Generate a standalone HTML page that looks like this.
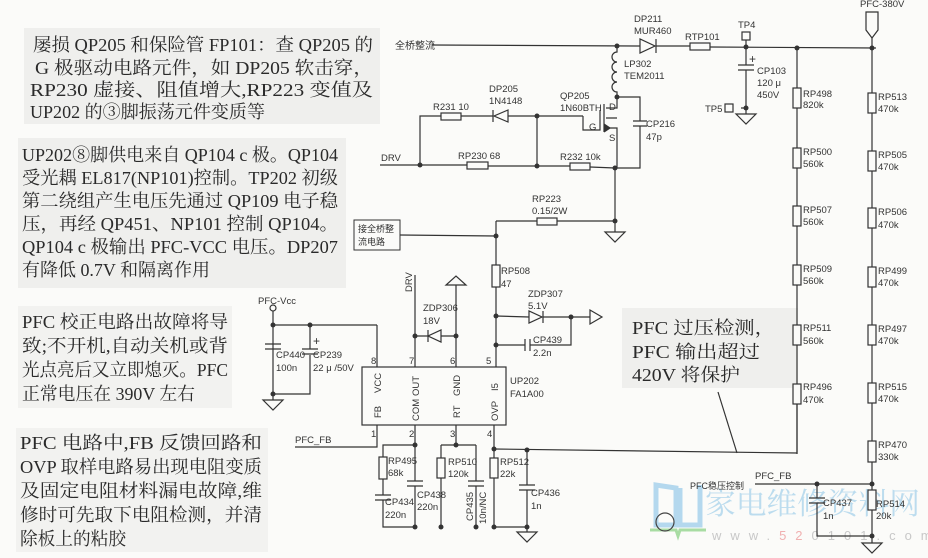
<!DOCTYPE html>
<html><head><meta charset="utf-8"><style>
html,body{margin:0;padding:0;background:#fbfbf9;}
svg{display:block}
.t{font-family:"Liberation Serif","Noto Serif CJK SC",serif;font-size:18px;fill:#2a2a2a}
.s{font-family:"Liberation Sans",sans-serif;font-size:9.5px;fill:#333}
.c{font-family:"Liberation Sans","Noto Sans CJK SC",sans-serif;font-size:10px;fill:#333}
</style></head><body>
<svg width="928" height="558" viewBox="0 0 928 558" xmlns="http://www.w3.org/2000/svg">
<rect width="928" height="558" fill="#fbfbf9"/>
<rect x="24" y="28" width="356" height="96" fill="#efefed"/>
<rect x="18" y="138" width="328" height="150" fill="#efefed"/>
<rect x="18" y="306" width="214" height="102" fill="#f2f2f0"/>
<rect x="16" y="428" width="252" height="124" fill="#f2f2f0"/>
<rect x="622" y="308" width="176" height="80" fill="#efefed"/>
<g class="t">
<text x="33" y="51" textLength="340" lengthAdjust="spacingAndGlyphs">屡损 QP205 和保险管 FP101：查 QP205 的</text>
<text x="35" y="74" textLength="338" lengthAdjust="spacingAndGlyphs">G 极驱动电路元件，如 DP205 软击穿，</text>
<text x="30" y="96" textLength="343" lengthAdjust="spacingAndGlyphs">RP230 虚接、阻值增大,RP223 变值及</text>
<text x="30" y="118" textLength="235" lengthAdjust="spacingAndGlyphs">UP202 的③脚振荡元件变质等</text>
<text x="22" y="161" textLength="316" lengthAdjust="spacingAndGlyphs">UP202⑧脚供电来自 QP104 c 极。QP104</text>
<text x="22" y="184" textLength="316" lengthAdjust="spacingAndGlyphs">受光耦 EL817(NP101)控制。TP202 初级</text>
<text x="22" y="207" textLength="316" lengthAdjust="spacingAndGlyphs">第二绕组产生电压先通过 QP109 电子稳</text>
<text x="22" y="230" textLength="316" lengthAdjust="spacingAndGlyphs">压，再经 QP451、NP101 控制 QP104。</text>
<text x="22" y="253" textLength="316" lengthAdjust="spacingAndGlyphs">QP104 c 极输出 PFC-VCC 电压。DP207</text>
<text x="22" y="276" textLength="188" lengthAdjust="spacingAndGlyphs">有降低 0.7V 和隔离作用</text>
<text x="22" y="328" textLength="206" lengthAdjust="spacingAndGlyphs">PFC 校正电路出故障将导</text>
<text x="22" y="352" textLength="206" lengthAdjust="spacingAndGlyphs">致;不开机,自动关机或背</text>
<text x="22" y="376" textLength="206" lengthAdjust="spacingAndGlyphs">光点亮后又立即熄灭。PFC</text>
<text x="22" y="400" textLength="173" lengthAdjust="spacingAndGlyphs">正常电压在 390V 左右</text>
<text x="20" y="449" textLength="242" lengthAdjust="spacingAndGlyphs">PFC 电路中,FB 反馈回路和</text>
<text x="20" y="473" textLength="242" lengthAdjust="spacingAndGlyphs">OVP 取样电路易出现电阻变质</text>
<text x="20" y="497" textLength="242" lengthAdjust="spacingAndGlyphs">及固定电阻材料漏电故障,维</text>
<text x="20" y="521" textLength="242" lengthAdjust="spacingAndGlyphs">修时可先取下电阻检测，并清</text>
<text x="20" y="545" textLength="106" lengthAdjust="spacingAndGlyphs">除板上的粘胶</text>
<text x="632" y="334" textLength="143" lengthAdjust="spacingAndGlyphs">PFC 过压检测，</text>
<text x="632" y="358" textLength="128" lengthAdjust="spacingAndGlyphs">PFC 输出超过</text>
<text x="632" y="381" textLength="108" lengthAdjust="spacingAndGlyphs">420V 将保护</text>
</g>
<g fill="none" stroke="#b4d8ee" stroke-width="5">
<path d="M656,485 L656,525 L676,525 L676,488 Z M680,488 L680,525 L700,525 L700,485"/>
</g>
<path d="M650,530 L676,530 L678,536 L680,530 L706,530" stroke="#a8dca3" stroke-width="3" fill="none"/>
<text x="705" y="514" font-family="Noto Serif CJK SC,serif" font-size="30" fill="#bcdcee" textLength="215" lengthAdjust="spacingAndGlyphs">家电维修资料网</text>
<text x="712" y="540" font-family="Liberation Sans,sans-serif" font-size="13" fill="#c8c8c8" letter-spacing="9">www.<tspan fill="#f0b0b0">52</tspan>0101.com</text>

<g stroke="#333" stroke-width="1.2" fill="none">
<path d="M432,45 L640,46 M656,46 L690,46 M710,47 L876,48"/>
<path d="M746,40 L746,47"/>
<path d="M617,46 L617,52 a4,4 0 0 0 0,10 a4,4 0 0 0 0,10 a4,4 0 0 0 0,10 a4,4 0 0 0 0,10 L617,108 L606,108"/>
<path d="M617,97 L640,97 L640,121 M640,126 L640,168 L617,168"/>
<path d="M633,121 L647,121 M633,126 L647,126"/>
<path d="M604,104 L604,132 M600,110 L600,130 L583,130 L583,116 M606,128 L617,128 L617,168 M606,118 L617,118"/>
<path d="M420,165 L420,116 L441,116 M461,116 L493,116 M508,116 L583,116 M537,116 L537,165"/>
<path d="M380,165 L467,165 M488,166 L570,166 M590,167 L615,168"/>
<path d="M615,168 L615,232"/>
<path d="M496,221 L537,221 M557,221 L615,221"/>
<path d="M400,235 L496,236 M496,221 L496,265 M496,287 L496,367"/>
<path d="M496,316 L529,317 M543,317 L590,317 M496,345 L525,345 M530,345 L571,345 L571,317"/>
<path d="M525,339 L525,351 M530,339 L530,351 M543,311 L543,323"/>
<rect x="362" y="367" width="144" height="58"/>
<path d="M377,325 L377,367 M415,275 L415,367 M456,285 L456,367"/>
<path d="M415,336 L428,336 M441,336 L456,336 M428,330 L428,342"/>
<path d="M273,311 L273,394 L310,394 L310,355 M273,325 L377,325 M310,325 L310,349"/>
<path d="M265,344 L281,344 M265,349 L281,349 M302,349 L318,349 M302,354 L318,354"/>
<path d="M273,394 L273,400"/>
<path d="M295,447 L377,447 L377,425"/>
<path d="M415,425 L415,481 M415,486 L415,527 M415,445 L383,445 L383,457 M383,479 L383,495 M383,500 L383,527 L415,527"/>
<path d="M375,495 L391,495 M375,500 L391,500 M407,481 L423,481 M407,486 L423,486"/>
<path d="M456,425 L456,445 M441,445 L476,445 M441,445 L441,458 M441,478 L441,527 M476,445 L476,481 M476,486 L476,527 M468,481 L484,481 M468,486 L484,486"/>
<path d="M494,425 L494,458 M494,478 L494,527 L527,527 L527,490 M527,450 L527,485 M519,485 L535,485 M519,490 L535,490"/>
<path d="M494,449 L797,453 L797,404"/>
<path d="M527,527 L527,532"/>
<path d="M797,48 L797,454"/>
<path d="M872,38 L872,536 M755,484 L872,484 M817,484 L817,498 M817,503 L817,536 L872,536 M809,498 L825,498 M809,503 L825,503 M872,536 L872,543"/>
<path d="M746,47 L746,65 M746,70 L746,114 M738,65 L754,65 M738,70 L754,70 M741,108 L746,108"/>
<path d="M718,392 L737,453"/>
<path d="M866,12 L878,12 L878,30 L872,38 L866,30 Z"/>
</g>
<g stroke="#333" stroke-width="1.2" fill="#fbfbf9">
<rect x="690" y="43" width="20" height="7"/>
<rect x="441" y="113" width="20" height="7"/>
<rect x="467" y="162" width="21" height="7"/>
<rect x="570" y="163" width="20" height="7"/>
<rect x="537" y="218" width="20" height="7"/>
<rect x="492" y="265" width="8" height="22"/>
<rect x="379" y="457" width="8" height="22"/>
<rect x="437" y="458" width="8" height="20"/>
<rect x="490" y="458" width="8" height="20"/>
<rect x="793" y="88" width="8" height="20"/><rect x="793" y="148" width="8" height="20"/>
<rect x="793" y="206" width="8" height="20"/><rect x="793" y="265" width="8" height="20"/>
<rect x="793" y="325" width="8" height="20"/><rect x="793" y="384" width="8" height="20"/>
<rect x="868" y="93" width="8" height="20"/><rect x="868" y="151" width="8" height="20"/>
<rect x="868" y="208" width="8" height="20"/><rect x="868" y="267" width="8" height="20"/>
<rect x="868" y="325" width="8" height="20"/><rect x="868" y="383" width="8" height="20"/>
<rect x="868" y="441" width="8" height="21"/><rect x="868" y="490" width="8" height="20"/>
<rect x="742" y="32" width="8" height="8"/><rect x="725" y="104" width="8" height="8"/>
<rect x="354" y="220" width="46" height="30" stroke-width="1"/>
<circle cx="273" cy="308" r="3"/>
</g>
<g stroke="#333" stroke-width="1.2" fill="none">
<polygon points="640,39 640,53 655,46"/><path d="M656,39 L656,53"/>
<polygon points="508,110 508,122 494,116"/><path d="M493,110 L493,122"/>
<polygon points="529,311 529,323 542,317"/>
<polygon points="441,330 441,342 428,336"/>
<polygon points="590,310 590,324 602,317"/>
<polygon points="446,285 466,285 456,276"/>
<polygon points="605,232 625,232 615,242"/>
<polygon points="736,114 756,114 746,124"/>
<polygon points="263,400 283,400 273,410"/>
<polygon points="517,532 537,532 527,542"/>
<polygon points="862,543 882,543 872,553"/>
<path d="M604,124 L610,128 L604,132" fill="#333"/>
<circle cx="665" cy="522" r="9" stroke="#444"/>
</g>
<g fill="#333">
<circle cx="617" cy="46" r="2.5"/><circle cx="746" cy="47" r="2.5"/><circle cx="797" cy="48" r="2.5"/><circle cx="872" cy="48" r="2.5"/>
<circle cx="617" cy="97" r="2.5"/><circle cx="746" cy="108" r="2.5"/><circle cx="537" cy="116" r="2.5"/>
<circle cx="420" cy="165" r="2.5"/><circle cx="537" cy="166" r="2.5"/><circle cx="615" cy="168" r="2.5"/><circle cx="615" cy="221" r="2.5"/>
<circle cx="496" cy="236" r="2.5"/><circle cx="496" cy="316" r="2.5"/><circle cx="571" cy="317" r="2.5"/><circle cx="496" cy="345" r="2.5"/>
<circle cx="415" cy="336" r="2.5"/><circle cx="456" cy="336" r="2.5"/>
<circle cx="273" cy="325" r="2.5"/><circle cx="310" cy="325" r="2.5"/><circle cx="273" cy="394" r="2.5"/>
<circle cx="415" cy="445" r="2.5"/><circle cx="456" cy="445" r="2.5"/><circle cx="494" cy="449" r="2.5"/><circle cx="527" cy="450" r="2.5"/>
<circle cx="415" cy="527" r="2.5"/><circle cx="441" cy="527" r="2.5"/><circle cx="476" cy="527" r="2.5"/><circle cx="494" cy="527" r="2.5"/><circle cx="527" cy="527" r="2.5"/>
<circle cx="817" cy="484" r="2.5"/><circle cx="872" cy="484" r="2.5"/><circle cx="872" cy="536" r="2.5"/>
</g>
<g class="s">
<text x="395" y="49" class="c">全桥整流</text>
<text x="634" y="22">DP211</text><text x="634" y="34">MUR460</text>
<text x="685" y="40">RTP101</text><text x="738" y="28">TP4</text><text x="705" y="112">TP5</text>
<text x="757" y="74">CP103</text><text x="757" y="86">120 μ</text><text x="757" y="98">450V</text>
<text x="624" y="67">LP302</text><text x="624" y="79">TEM2011</text>
<text x="560" y="99">QP205</text><text x="560" y="111">1N60BTH</text>
<text x="609" y="110">D</text><text x="589" y="130">G</text><text x="609" y="141">S</text>
<text x="646" y="127">CP216</text><text x="646" y="140">47p</text>
<text x="433" y="110">R231  10</text><text x="489" y="92">DP205</text><text x="489" y="104">1N4148</text>
<text x="381" y="161">DRV</text><text x="458" y="159">RP230  68</text><text x="560" y="160">R232  10k</text>
<text x="532" y="202">RP223</text><text x="532" y="214">0.15/2W</text>
<text x="358" y="232" class="c" style="font-size:9px">接全桥整</text><text x="358" y="245" class="c" style="font-size:9px">流电路</text>
<text x="501" y="274">RP508</text><text x="501" y="287">47</text>
<text x="528" y="297">ZDP307</text><text x="528" y="309">5.1V</text>
<text x="533" y="343">CP439</text><text x="533" y="356">2.2n</text>
<text x="423" y="311">ZDP306</text><text x="423" y="324">18V</text>
<text x="258" y="304">PFC-Vcc</text>
<text x="276" y="358">CP440</text><text x="276" y="371">100n</text>
<text x="313" y="358">CP239</text><text x="313" y="371">22 μ /50V</text>
<text x="313" y="345" style="font-size:12px">+</text><text x="749" y="63" style="font-size:12px">+</text>
<text x="371" y="364">8</text><text x="409" y="364">7</text><text x="450" y="364">6</text><text x="486" y="364">5</text>
<text x="371" y="437">1</text><text x="409" y="437">2</text><text x="450" y="437">3</text><text x="487" y="437">4</text>
<text x="510" y="384">UP202</text><text x="510" y="397">FA1A00</text>
<text x="295" y="443">PFC_FB</text>
<text x="388" y="464">RP495</text><text x="388" y="476">68k</text>
<text x="385" y="505">CP434</text><text x="385" y="518">220n</text>
<text x="417" y="498">CP438</text><text x="417" y="510">220n</text>
<text x="448" y="465">RP510</text><text x="448" y="477">120k</text>
<text x="500" y="465">RP512</text><text x="500" y="477">22k</text>
<text x="531" y="496">CP436</text><text x="531" y="509">1n</text>
<text x="860" y="7">PFC-380V</text>
<text x="803" y="97">RP498</text><text x="803" y="108">820k</text>
<text x="803" y="155">RP500</text><text x="803" y="167">560k</text>
<text x="803" y="213">RP507</text><text x="803" y="225">560k</text>
<text x="803" y="272">RP509</text><text x="803" y="284">560k</text>
<text x="803" y="331">RP511</text><text x="803" y="344">560k</text>
<text x="803" y="390">RP496</text><text x="803" y="403">470k</text>
<text x="878" y="100">RP513</text><text x="878" y="112">470k</text>
<text x="878" y="158">RP505</text><text x="878" y="170">470k</text>
<text x="878" y="215">RP506</text><text x="878" y="228">470k</text>
<text x="878" y="274">RP499</text><text x="878" y="286">470k</text>
<text x="878" y="332">RP497</text><text x="878" y="344">470k</text>
<text x="878" y="390">RP515</text><text x="878" y="402">470k</text>
<text x="878" y="448">RP470</text><text x="878" y="460">330k</text>
<text x="876" y="507">RP514</text><text x="876" y="519">20k</text>
<text x="823" y="506">CP437</text><text x="823" y="519">1n</text>
<text x="755" y="479">PFC_FB</text>
<text x="690" y="489" class="c" style="font-size:9px">PFC稳压控制</text>
</g>
<g class="s">
<text transform="translate(412,292) rotate(-90)">DRV</text>
<text transform="translate(381,393) rotate(-90)">VCC</text>
<text transform="translate(381,418) rotate(-90)">FB</text>
<text transform="translate(419,396) rotate(-90)">OUT</text>
<text transform="translate(419,421) rotate(-90)">COM</text>
<text transform="translate(460,396) rotate(-90)">GND</text>
<text transform="translate(460,418) rotate(-90)">RT</text>
<text transform="translate(498,391) rotate(-90)">I5</text>
<text transform="translate(498,421) rotate(-90)">OVP</text>
<text transform="translate(473,521) rotate(-90)">CP435</text>
<text transform="translate(486,524) rotate(-90)">10n/NC</text>
</g>
</svg>
</body></html>
